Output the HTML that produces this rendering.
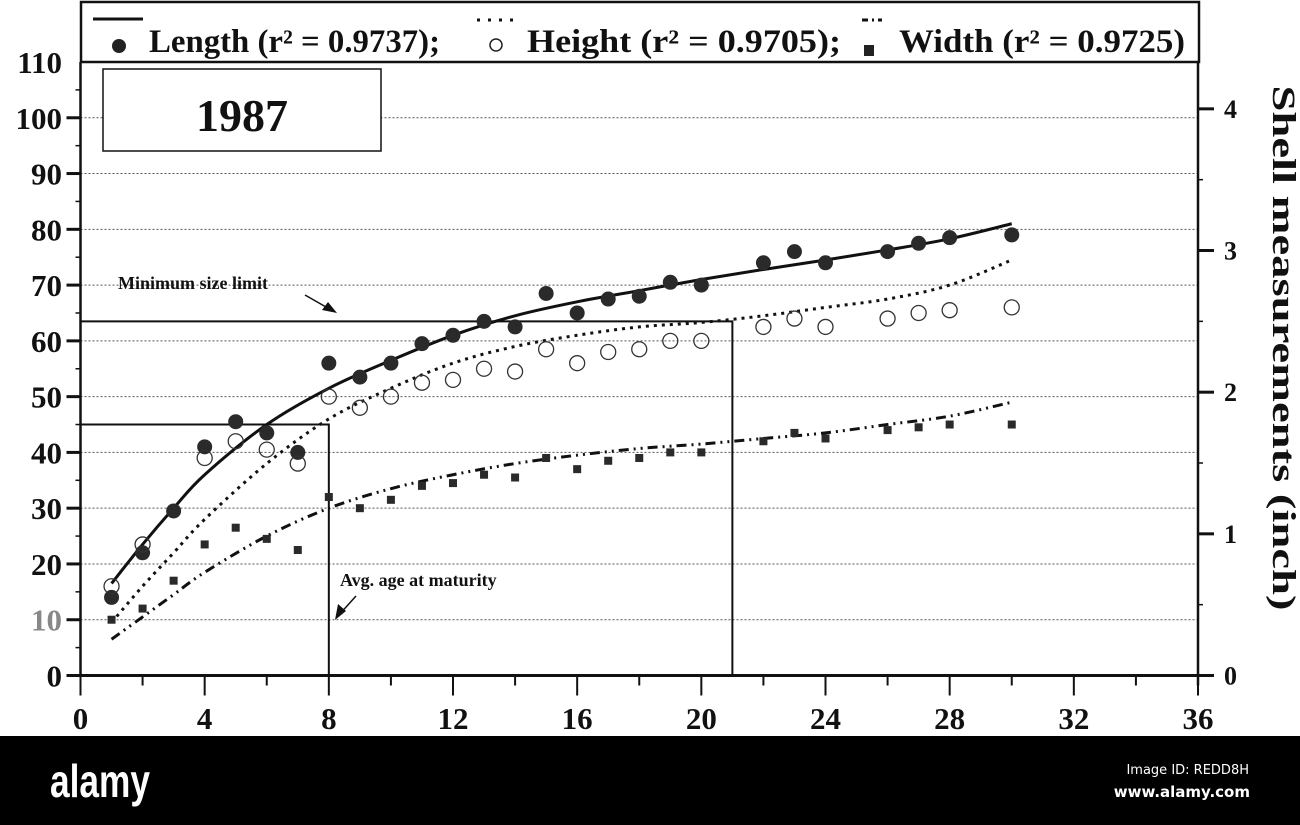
<!DOCTYPE html>
<html><head><meta charset="utf-8"><style>
html,body{margin:0;padding:0;background:#fff;}
svg{display:block;font-family:"Liberation Serif",serif;}
</style></head><body>
<svg id="chart" width="1300" height="825" viewBox="0 0 1300 825" xmlns="http://www.w3.org/2000/svg">
<rect width="1300" height="825" fill="#fff"/>
<g id="grid"></g>
<g id="refs"></g>
<g id="curves"></g>
<g id="marks"></g>
<g id="axes"></g>
<rect x="81" y="2" width="1118" height="60" fill="#fff" stroke="#111" stroke-width="2.5"/>
<g>
<line x1="93" y1="19" x2="143" y2="19" stroke="#111" stroke-width="3"/>
<circle cx="119" cy="46" r="7" fill="#222"/>
<text x="149" y="52" font-size="33" font-weight="bold" fill="#111" textLength="291" lengthAdjust="spacingAndGlyphs">Length (r² = 0.9737);</text>
</g>
<g>
<line x1="477" y1="20" x2="517" y2="20" stroke="#111" stroke-width="3" stroke-dasharray="3,8"/>
<circle cx="496" cy="45" r="6" fill="none" stroke="#222" stroke-width="1.5"/>
<text x="527" y="52" font-size="33" font-weight="bold" fill="#111" textLength="314" lengthAdjust="spacingAndGlyphs">Height (r² = 0.9705);</text>
</g>
<g>
<line x1="862" y1="20" x2="882" y2="20" stroke="#111" stroke-width="3" stroke-dasharray="6,4,2,4"/>
<rect x="864" y="45" width="10" height="11" fill="#222"/>
<text x="899" y="52" font-size="33" font-weight="bold" fill="#111" textLength="286" lengthAdjust="spacingAndGlyphs">Width (r² = 0.9725)</text>
</g>
<rect x="103" y="69" width="278" height="82" fill="#fff" stroke="#111" stroke-width="1.5"/>
<text x="242" y="131" font-size="46" font-weight="bold" text-anchor="middle" fill="#111">1987</text>
<text x="118" y="289" font-size="18" font-weight="bold" fill="#111">Minimum size  limit</text>
<line x1="305" y1="295" x2="333" y2="311" stroke="#111" stroke-width="1.5"/>
<polygon points="337,313 322,310 328,302" fill="#111"/>
<text x="340" y="586" font-size="18" font-weight="bold" fill="#111">Avg. age at maturity</text>
<line x1="356" y1="596" x2="338" y2="616" stroke="#111" stroke-width="1.5"/>
<polygon points="335,620 338,604 346,611" fill="#111"/>
<text transform="translate(1273,348) rotate(90)" font-size="33" font-weight="bold" text-anchor="middle" fill="#111" textLength="525" lengthAdjust="spacingAndGlyphs">Shell measurements (inch)</text>
<rect x="0" y="736" width="1300" height="89" fill="#000"/>
<text x="50" y="797" font-family="Liberation Sans,sans-serif" font-size="46" font-weight="bold" fill="#fff" textLength="100" lengthAdjust="spacingAndGlyphs">alamy</text>
<text x="1249" y="774" font-family="DejaVu Sans,sans-serif" font-size="13" text-anchor="end" fill="#fff">Image ID: REDD8H</text>
<text x="1250" y="797" font-family="DejaVu Sans,sans-serif" font-size="15" font-weight="bold" text-anchor="end" fill="#fff">www.alamy.com</text>
</svg>
<script>
const ages = [1,2,3,4,5,6,7,8,9,10,11,12,13,14,15,16,17,18,19,20,22,23,24,26,27,28,30];
const lengthVals = [14,22,29.5,41,45.5,43.5,40,56,53.5,56,59.5,61,63.5,62.5,68.5,65,67.5,68,70.5,70,74,76,74,76,77.5,78.5,79];
const heightAges = [1,2,4,5,6,7,8,9,10,11,12,13,14,15,16,17,18,19,20,22,23,24,26,27,28,30];
const heightVals = [16,23.5,39,42,40.5,38,50,48,50,52.5,53,55,54.5,58.5,56,58,58.5,60,60,62.5,64,62.5,64,65,65.5,66];
const widthVals = [10,12,17,23.5,26.5,24.5,22.5,32,30,31.5,34,34.5,36,35.5,39,37,38.5,39,40,40,42,43.5,42.5,44,44.5,45,45];
const fitAges = [1,2,3,4,6,8,10,12,14,16,18,20,22,24,26,28,30];
const lengthFit = [16.5,23.5,30,36,45,51.5,56.5,61,64.5,67,69,71,72.8,74.5,76.3,78.3,81];
const heightFit = [9.5,16,22,28,38,46,51.5,56,59,61,62.5,63.3,64.5,66,67.5,70,74.5];
const widthFit = [6.5,10.5,14.5,18.5,25,30,33.5,36,38,39.5,40.7,41.5,42.5,43.5,45,46.5,49];
const xTicks = [0,4,8,12,16,20,24,28,32,36];
const yTicks = [0,10,20,30,40,50,60,70,80,90,100,110];
const inchTicks = [0,1,2,3,4];
const refLines = [[21,63.5],[8,45]];

const X0=80.5, X1=1198, Y0=675.5, Y110=62;
const sx = v => X0 + v*(X1-X0)/36;
const sy = v => Y0 - v*(Y0-Y110)/110;
const si = v => sy(v*25.4);
const NS="http://www.w3.org/2000/svg";
function mk(parent, tag, attrs){const e=document.createElementNS(NS,tag);for(const k in attrs)e.setAttribute(k,attrs[k]);document.getElementById(parent).appendChild(e);return e;}

yTicks.forEach(v=>{ if(v>0 && v<110){
  const g=mk('grid','line',{x1:X0,x2:X1,y1:sy(v),y2:sy(v),stroke:'#555','stroke-width':1,'stroke-dasharray':'2,2'});
  
  
}});

refLines.forEach(r=>{
  const p=mk('refs','polyline',{points:`${sx(0)},${sy(r[1])} ${sx(r[0])},${sy(r[1])} ${sx(r[0])},${sy(0)}`,fill:'none',stroke:'#111','stroke-width':2});
  
  
});

function curve(vals,dash,name){
  const pts=fitAges.map((a,i)=>[sx(a),sy(vals[i])]);
  let d=`M${pts[0][0]},${pts[0][1]}`;
  for(let i=0;i<pts.length-1;i++){
    const p0=pts[i-1]||pts[i],p1=pts[i],p2=pts[i+1],p3=pts[i+2]||p2;
    d+=` C${p1[0]+(p2[0]-p0[0])/6},${p1[1]+(p2[1]-p0[1])/6} ${p2[0]-(p3[0]-p1[0])/6},${p2[1]-(p3[1]-p1[1])/6} ${p2[0]},${p2[1]}`;
  }
  const e=mk('curves','path',{d:d,fill:'none',stroke:'#111','stroke-width':3,'stroke-dasharray':dash});
  
  
}
curve(lengthFit,'none','length-fit-line');
curve(heightFit,'3,5','height-fit-line');
curve(widthFit,'10,5,2,5,2,5','width-fit-line');

ages.forEach((a,i)=>{
  const c=mk('marks','circle',{cx:sx(a),cy:sy(lengthVals[i]),r:7.5,fill:'#2a2a2a'});
  
  
  const s=mk('marks','rect',{x:sx(a)-4,y:sy(widthVals[i])-4,width:8,height:8,fill:'#2a2a2a'});
  
  
});
heightAges.forEach((a,i)=>{
  const c=mk('marks','circle',{cx:sx(a),cy:sy(heightVals[i]),r:7.5,fill:'none',stroke:'#333','stroke-width':1.3});
  
  
});

let ax=mk('axes','line',{x1:X0,x2:X0,y1:Y110,y2:Y0,stroke:'#111','stroke-width':2.5});


ax=mk('axes','line',{x1:X1,x2:X1,y1:Y110,y2:Y0+10,stroke:'#111','stroke-width':2.5});


ax=mk('axes','line',{x1:X0-14,x2:X1+14,y1:Y0,y2:Y0,stroke:'#111','stroke-width':3});


for(let k=0;k<=18;k++){const v=k*2;
  const t=mk('axes','line',{x1:sx(v),x2:sx(v),y1:Y0,y2:Y0+(v%4===0?20:10),stroke:'#111','stroke-width':2});
  
  }
xTicks.forEach(v=>{
  const t=mk('axes','text',{x:sx(v),y:729,'font-size':31,'font-weight':'bold','text-anchor':'middle',fill:'#111'});
  t.textContent=v;
  
  });
for(let k=0;k<22;k++){const v=k*5;
  const t=mk('axes','line',{x1:X0-(v%10===0?14:5),x2:X0,y1:sy(v),y2:sy(v),stroke:'#111','stroke-width':v%10===0?3:1.5});
  
  }
yTicks.forEach(v=>{
  const t=mk('axes','text',{x:62,y:sy(v)+11,'font-size':31,'font-weight':'bold','text-anchor':'end',fill:v===10?'#888':'#111'});
  t.textContent=v;
  
  });
for(let k=0;k<=8;k++){const v=k*0.5;
  const t=mk('axes','line',{x1:X1,x2:X1+(k%2===0?16:5),y1:si(v),y2:si(v),stroke:'#111','stroke-width':k%2===0?3:1.5});
  
  }
inchTicks.forEach(v=>{
  const t=mk('axes','text',{x:1224,y:si(v)+9,'font-size':26,'font-weight':'bold',fill:'#111'});
  t.textContent=v;
  
  });
</script>
</body></html>
